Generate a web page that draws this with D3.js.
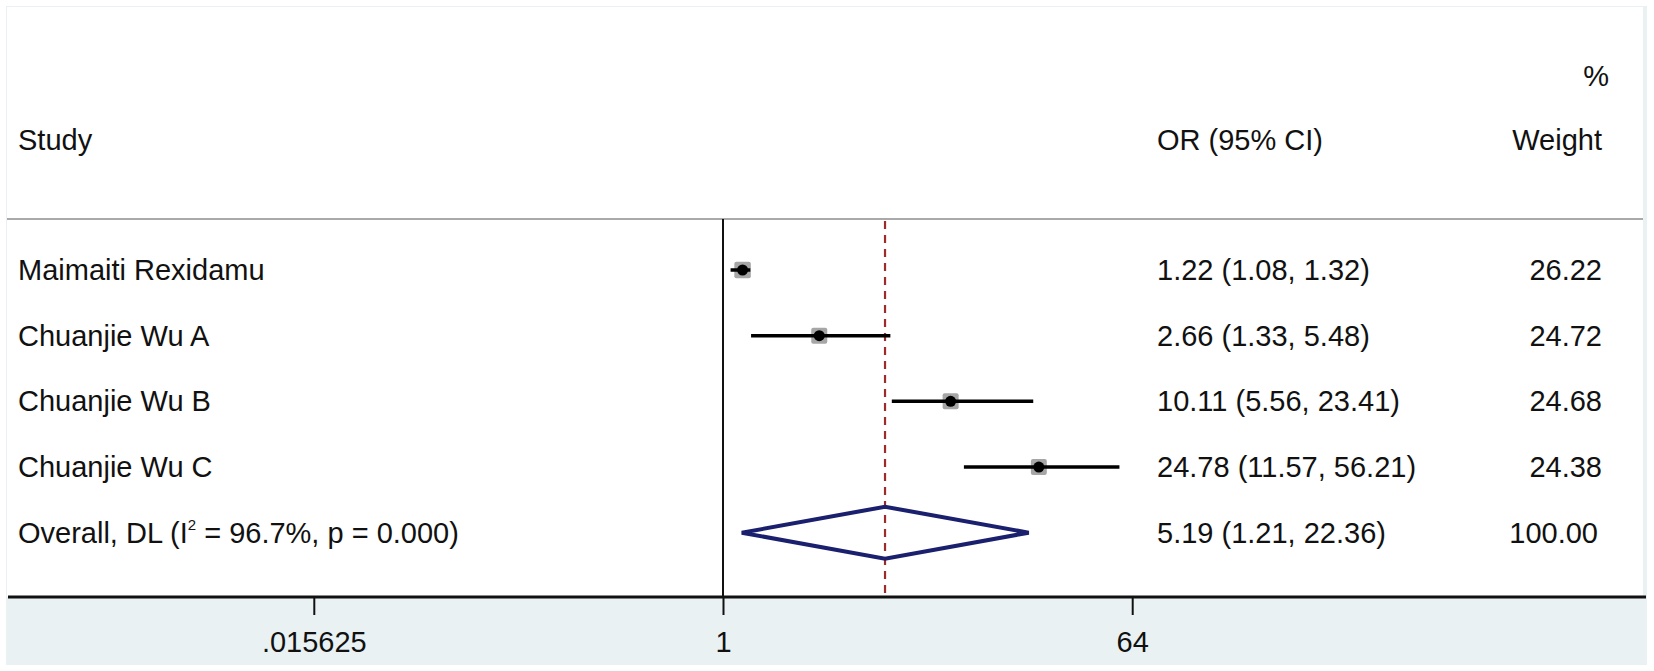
<!DOCTYPE html>
<html>
<head>
<meta charset="utf-8">
<script src="https://cdn.jsdelivr.net/npm/d3@7"></script>
<style>
  body { margin: 0; background: #fff; }
  text { font-family: "Liberation Sans", Arial, sans-serif; fill: #111; }
</style>
</head>
<body>
<script>
var studies = ["Maimaiti Rexidamu", "Chuanjie Wu A", "Chuanjie Wu B", "Chuanjie Wu C"];
var orEst = [1.22, 2.66, 10.11, 24.78];
var ciLow = [1.08, 1.33, 5.56, 11.57];
var ciHigh = [1.32, 5.48, 23.41, 56.21];
var weights = [26.22, 24.72, 24.68, 24.38];
var overallEst = 5.19, overallLow = 1.21, overallHigh = 22.36, overallWeight = 100.00;
var tickValues = [0.015625, 1, 64];
var tickLabels = [".015625", "1", "64"];

var w = 1654, h = 671;
var fs = 29;

var svg = d3.select('body').append('svg')
  .attr('width', w)
  .attr('height', h);

// graph region + plot region
svg.append('rect')
  .attr('x', 6).attr('y', 6).attr('width', 1641).attr('height', 659)
  .attr('fill', '#eaf1f3');
svg.append('rect')
  .attr('x', 7).attr('y', 7).attr('width', 1636).attr('height', 590)
  .attr('fill', '#fff');

var x = d3.scaleLog().base(2)
  .domain([1 / 64, 64])
  .range([313.8, 1132.2]);

var rows = d3.range(studies.length + 1);
var y = d3.scalePoint()
  .domain(rows)
  .range([270, 532.7]);

// header
svg.append('line')
  .attr('x1', 7).attr('x2', 1643).attr('y1', 219).attr('y2', 219)
  .attr('stroke', '#a9a9a9').attr('stroke-width', 2);

svg.append('text').attr('x', 18).attr('y', 150).attr('font-size', fs).text('Study');
svg.append('text').attr('x', 1157).attr('y', 150).attr('font-size', fs).text('OR (95% CI)');
svg.append('text').attr('x', 1602).attr('y', 150).attr('font-size', fs)
  .attr('text-anchor', 'end').text('Weight');
svg.append('text').attr('x', 1609).attr('y', 86).attr('font-size', fs)
  .attr('text-anchor', 'end').text('%');

// no-effect line and overall line
svg.append('line')
  .attr('x1', x(1)).attr('x2', x(1)).attr('y1', 219).attr('y2', 597)
  .attr('stroke', '#111').attr('stroke-width', 2);

svg.append('line')
  .attr('x1', x(overallEst)).attr('x2', x(overallEst)).attr('y1', 221).attr('y2', 596)
  .attr('stroke', '#9e2a2b').attr('stroke-width', 2.2)
  .attr('stroke-dasharray', '8,6');

// study rows
var g = svg.append('g');
var rowsG = g.selectAll('g.study')
  .data(studies)
  .enter()
  .append('g')
  .attr('class', 'study');

rowsG.append('text')
  .attr('x', 18)
  .attr('y', function (d, i) { return y(i) + 10; })
  .attr('font-size', fs)
  .text(function (d) { return d; });

rowsG.append('rect')
  .attr('x', function (d, i) { var s = 3.22 * Math.sqrt(weights[i]); return x(orEst[i]) - s / 2; })
  .attr('y', function (d, i) { var s = 3.22 * Math.sqrt(weights[i]); return y(i) - s / 2; })
  .attr('width', function (d, i) { return 3.22 * Math.sqrt(weights[i]); })
  .attr('height', function (d, i) { return 3.22 * Math.sqrt(weights[i]); })
  .attr('rx', 2)
  .attr('fill', '#a6a6a6');

rowsG.append('line')
  .attr('x1', function (d, i) { return x(ciLow[i]); })
  .attr('x2', function (d, i) { return x(ciHigh[i]); })
  .attr('y1', function (d, i) { return y(i); })
  .attr('y2', function (d, i) { return y(i); })
  .attr('stroke', '#000').attr('stroke-width', 3.5);

rowsG.append('circle')
  .attr('cx', function (d, i) { return x(orEst[i]); })
  .attr('cy', function (d, i) { return y(i); })
  .attr('r', 5.5)
  .attr('fill', '#000');

rowsG.append('text')
  .attr('x', 1157)
  .attr('y', function (d, i) { return y(i) + 10; })
  .attr('font-size', fs)
  .text(function (d, i) {
    return orEst[i].toFixed(2) + ' (' + ciLow[i].toFixed(2) + ', ' + ciHigh[i].toFixed(2) + ')';
  });

rowsG.append('text')
  .attr('x', 1602)
  .attr('text-anchor', 'end')
  .attr('y', function (d, i) { return y(i) + 10; })
  .attr('font-size', fs)
  .text(function (d, i) { return weights[i].toFixed(2); });

// overall row
var oy = y(studies.length);
var ol = svg.append('text')
  .attr('x', 18).attr('y', oy + 10).attr('font-size', fs);
ol.append('tspan').text('Overall, DL (I');
ol.append('tspan').attr('font-size', 15).attr('dy', -13).text('2');
ol.append('tspan').attr('dy', 13).text(' = 96.7%, p = 0.000)');

svg.append('path')
  .attr('d', 'M' + x(overallLow) + ',' + oy +
    'L' + x(overallEst) + ',' + (oy - 26) +
    'L' + x(overallHigh) + ',' + oy +
    'L' + x(overallEst) + ',' + (oy + 26) + 'Z')
  .attr('fill', 'none')
  .attr('stroke', '#1a1f6e')
  .attr('stroke-width', 4);

svg.append('text')
  .attr('x', 1157).attr('y', oy + 10).attr('font-size', fs)
  .text(overallEst.toFixed(2) + ' (' + overallLow.toFixed(2) + ', ' + overallHigh.toFixed(2) + ')');
svg.append('text')
  .attr('x', 1598).attr('y', oy + 10).attr('font-size', fs)
  .attr('text-anchor', 'end')
  .text(overallWeight.toFixed(2));

// x axis
var axis = d3.axisBottom(x)
  .tickValues(tickValues)
  .tickFormat(function (d, i) { return tickLabels[i]; })
  .tickSize(17)
  .tickPadding(16);

var ax = svg.append('g')
  .attr('transform', 'translate(0,598)')
  .call(axis);
ax.select('.domain').remove();
ax.selectAll('.tick line').attr('stroke', '#111').attr('stroke-width', 2);
ax.selectAll('.tick text')
  .attr('font-size', fs)
  .attr('font-family', '"Liberation Sans", Arial, sans-serif')
  .attr('fill', '#111');

svg.append('line')
  .attr('x1', 8).attr('x2', 1646).attr('y1', 597).attr('y2', 597)
  .attr('stroke', '#111').attr('stroke-width', 3);
</script>
</body>
</html>
